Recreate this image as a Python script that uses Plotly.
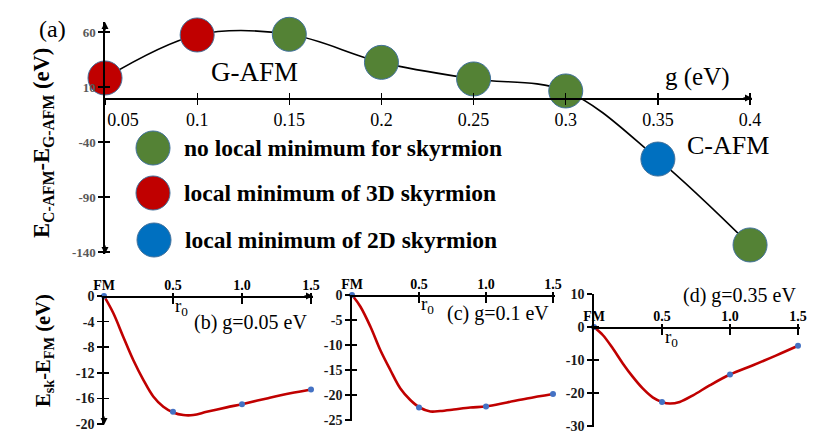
import plotly.graph_objects as go

W, H = 830, 445
def PX(x): return x / W
def PY(y): return 1 - y / H

SERIF = "Liberation Serif, Times New Roman, serif"

# ---------------- panel (a) data ----------------
g_vals = [0.05, 0.10, 0.15, 0.20, 0.25, 0.30, 0.35, 0.40]
dE_vals = [18.2, 57.3, 57.9, 32.4, 17.3, 6.4, -55.5, -133.6]
state = ["3D", "3D", "none", "none", "none", "none", "2D", "none"]
a_xticks = [0.05, 0.10, 0.15, 0.20, 0.25, 0.30, 0.35, 0.40]
a_xticklabels = ["\u00a0\u00a0\u00a0\u00a0\u00a0\u00a0\u00a0\u00a00.05", "0.1", "0.15", "0.2", "0.25", "0.3", "0.35", "0.4"]
a_yticks = [60, 10, -40, -90, -140]
state_names = ["none", "3D", "2D"]
state_colors = {"none": "#548235", "3D": "#C00000", "2D": "#0070C0"}
state_labels = {"none": "no local minimum for skyrmion",
                "3D": "local minimum of 3D skyrmion",
                "2D": "local minimum of 2D skyrmion"}

# ---------------- panels (b)(c)(d) data ----------------
r_pts = [0.0, 0.5, 1.0, 1.5]
b_pts = [0.0, -18.1, -16.9, -14.6]
c_pts = [0.0, -22.5, -22.3, -19.8]
d_pts = [0.0, -22.7, -14.4, -5.7]

b_curve_r = [0, 0.068, 0.14, 0.212, 0.285, 0.357, 0.43, 0.502, 0.575, 0.647, 0.744, 0.889, 1.0, 1.18, 1.35, 1.5]
b_curve_E = [0, -2.7, -6.4, -10.0, -13.1, -15.7, -17.3, -18.2, -18.6, -18.6, -18.1, -17.4, -16.9, -16.0, -15.2, -14.6]
c_curve_r = [0, 0.062, 0.137, 0.211, 0.286, 0.361, 0.435, 0.505, 0.585, 0.659, 0.759, 0.883, 1.0, 1.157, 1.306, 1.5]
c_curve_E = [0, -2.3, -6.3, -11.0, -15.0, -18.7, -21.0, -22.5, -23.3, -23.2, -22.9, -22.5, -22.3, -21.5, -20.7, -19.8]
d_curve_r = [0, 0.066, 0.14, 0.213, 0.287, 0.36, 0.434, 0.5, 0.556, 0.63, 0.728, 0.85, 1.0, 1.169, 1.341, 1.5]
d_curve_E = [0, -2.5, -6.6, -11.1, -15.2, -18.7, -21.4, -22.7, -23.2, -22.7, -20.7, -17.7, -14.4, -11.6, -8.6, -5.7]

b_yticks = [0, -4, -8, -12, -16, -20]
c_yticks = [0, -5, -10, -15, -20, -25]
d_yticks = [10, 0, -10, -20, -30]
r_ticks = [0, 0.5, 1.0, 1.5]
r_ticklabels = ["FM", "0.5", "1.0", "1.5"]

fig = go.Figure()

# ---- panel (a) traces ----
fig.add_trace(go.Scatter(x=g_vals, y=dE_vals, mode="lines",
                         line=dict(color="black", width=1.6, shape="spline"),
                         xaxis="x", yaxis="y", showlegend=False, hoverinfo="skip",
                         cliponaxis=False))
for s in state_names:
    xs = [gv for gv, st in zip(g_vals, state) if st == s]
    ys = [ev for ev, st in zip(dE_vals, state) if st == s]
    fig.add_trace(go.Scatter(x=xs, y=ys, mode="markers", name=state_labels[s],
                             marker=dict(size=34, color=state_colors[s],
                                         line=dict(color="#41719C", width=1)),
                             xaxis="x", yaxis="y", showlegend=False, cliponaxis=False))
fig.add_trace(go.Scatter(x=[], y=[], xaxis="x2", yaxis="y2", showlegend=False))

# ---- bottom panels ----
panels = [
    dict(cr=b_curve_r, cE=b_curve_E, pE=b_pts, yt=b_yticks,
         xdom=(104, 313), xscale=138, y0=296, ydom=(296, 425), yscale=6.4),
    dict(cr=c_curve_r, cE=c_curve_E, pE=c_pts, yt=c_yticks,
         xdom=(352, 555), xscale=134, y0=295, ydom=(295, 421), yscale=5.0),
    dict(cr=d_curve_r, cE=d_curve_E, pE=d_pts, yt=d_yticks,
         xdom=(594, 800), xscale=136, y0=327, ydom=(294, 427), yscale=3.3),
]

layout_axes = {}
tickfont_a_x = dict(family=SERIF, size=18, color="black")
tickfont_a_y = dict(family=SERIF, size=13, color="#595959")
common = dict(showgrid=False, zeroline=False, automargin=False)

layout_axes["xaxis"] = dict(domain=[PX(105), PX(752)], range=[0.05, 0.05 + 647 / 1843],
                            anchor="free", position=PY(98), side="bottom",
                            tickvals=a_xticks, ticktext=a_xticklabels, tickfont=tickfont_a_x,
                            ticks="outside", ticklen=5, tickwidth=1.3, tickcolor="black",
                            showline=True, linecolor="black", linewidth=1.6, **common)
layout_axes["yaxis"] = dict(domain=[PY(254), PY(22)], range=[-(254 - 98) / 1.1, (98 - 22) / 1.1],
                            anchor="x", tickvals=a_yticks, ticktext=[f"<b>{v}</b>" for v in a_yticks],
                            tickfont=tickfont_a_y, ticks="outside", ticklen=5, tickwidth=1.3,
                            tickcolor="black", showline=True, linecolor="black", linewidth=1.6,
                            **common)
layout_axes["xaxis2"] = dict(overlaying="x", range=layout_axes["xaxis"]["range"], anchor="free",
                             position=PY(98), side="bottom", tickvals=a_xticks,
                             showticklabels=False, ticks="inside", ticklen=5, tickwidth=1.3,
                             tickcolor="black", showline=False, **common)
layout_axes["yaxis2"] = dict(overlaying="y", range=layout_axes["yaxis"]["range"], anchor="x",
                             tickvals=a_yticks, showticklabels=False, ticks="inside", ticklen=5,
                             tickwidth=1.3, tickcolor="black", showline=False, **common)

for i, p in enumerate(panels):
    n_main = 3 + 2 * i
    n_ov = n_main + 1
    xm, ym = f"x{n_main}", f"y{n_main}"
    xo, yo = f"x{n_ov}", f"y{n_ov}"
    xr = [0, (p["xdom"][1] - p["xdom"][0]) / p["xscale"]]
    yr = [-(p["ydom"][1] - p["y0"]) / p["yscale"], (p["y0"] - p["ydom"][0]) / p["yscale"]]
    fig.add_trace(go.Scatter(x=p["cr"], y=p["cE"], mode="lines",
                             line=dict(color="#C00000", width=2.6, shape="spline"),
                             xaxis=xm, yaxis=ym, showlegend=False, cliponaxis=False))
    fig.add_trace(go.Scatter(x=r_pts, y=p["pE"], mode="markers",
                             marker=dict(size=6, color="#4472C4"),
                             xaxis=xm, yaxis=ym, showlegend=False, cliponaxis=False))
    fig.add_trace(go.Scatter(x=[], y=[], xaxis=xo, yaxis=yo, showlegend=False))
    layout_axes[f"xaxis{n_main}"] = dict(domain=[PX(p["xdom"][0]), PX(p["xdom"][1])], range=xr,
                                         anchor="free", position=PY(p["y0"]), side="top",
                                         tickvals=r_ticks,
                                         ticktext=[f"<b>{t}</b>" for t in r_ticklabels],
                                         tickfont=dict(family=SERIF, size=14, color="black"),
                                         ticks="inside", ticklen=6, tickwidth=1.5, tickcolor="black",
                                         showline=True, linecolor="black", linewidth=1.6, **common)
    layout_axes[f"yaxis{n_main}"] = dict(domain=[PY(p["ydom"][1]), PY(p["ydom"][0])], range=yr,
                                         anchor=xm, tickvals=p["yt"],
                                         ticktext=[f"<b>{v}</b>" for v in p["yt"]],
                                         tickfont=dict(family=SERIF, size=14, color="#1a1a1a"),
                                         ticks="outside", ticklen=5, tickwidth=1.5, tickcolor="black",
                                         showline=True, linecolor="black", linewidth=1.8, **common)
    layout_axes[f"xaxis{n_ov}"] = dict(overlaying=xm, range=xr, anchor="free",
                                       position=PY(p["y0"]), side="top", tickvals=r_ticks[1:],
                                       showticklabels=False, ticks="outside", ticklen=3,
                                       tickwidth=1.5, tickcolor="black", showline=False, **common)
    layout_axes[f"yaxis{n_ov}"] = dict(overlaying=ym, range=yr, anchor=xm, tickvals=p["yt"],
                                       showticklabels=False, ticks="inside", ticklen=5,
                                       tickwidth=1.5, tickcolor="black", showline=False, **common)

# ---- annotations ----
ann = []
def text(x, y, t, size, bold=False, xanchor="center", angle=0):
    ann.append(dict(x=PX(x), y=PY(y), xref="paper", yref="paper", text=(f"<b>{t}</b>" if bold else t),
                    showarrow=False, xanchor=xanchor, yanchor="middle", textangle=angle,
                    borderpad=0, font=dict(family=SERIF, size=size, color="black")))

def arrow(x, y, xref, yref, ax, ay):
    ann.append(dict(x=x, y=y, xref=xref, yref=yref, ax=ax, ay=ay, text="", showarrow=True,
                    arrowhead=2, arrowsize=1.0, arrowwidth=1.4, arrowcolor="black", standoff=0))

text(52, 29, "(a)", 24)
text(254, 72, "G-AFM", 27)
text(728, 145, "C-AFM", 26)
text(697, 77, "g (eV)", 25)
text(43, 143, "E<sub>C-AFM</sub>-E<sub>G-AFM</sub> (eV)", 22.5, bold=True, angle=-90)
text(44, 351, "E<sub>sk</sub>-E<sub>FM</sub> (eV)", 20.5, bold=True, angle=-90)
legend_pos = [(153, 148), (153, 193), (154, 240)]
for (lx, ly), s in zip(legend_pos, state_names):
    text(lx + 30, ly, state_labels[s], 23.5, bold=True, xanchor="left")

text(250, 322, "(b) g=0.05 eV", 20)
text(498, 313, "(c) g=0.1 eV", 20)
text(739, 295, "(d) g=0.35 eV", 20)
text(181, 307, "r<sub>0</sub>", 19)
text(427, 305, "r<sub>0</sub>", 19)
text(671, 338, "r<sub>0</sub>", 19)

# axis arrowheads
top_yr = layout_axes["yaxis"]["range"]
top_xr = layout_axes["xaxis"]["range"]
arrow(0.05, top_yr[1], "x", "y", 0, 10)
arrow(0.05, top_yr[0], "x", "y", 0, -10)
arrow(top_xr[1], 0, "x", "y", -10, 0)
b_yr = [-(425 - 296) / 6.4, 0]
arrow(0, b_yr[0], "x3", "y3", 0, -10)
arrow((313 - 104) / 138, 0, "x3", "y3", -10, 0)

# legend circles
shapes = []
for (lx, ly), s in zip(legend_pos, state_names):
    shapes.append(dict(type="circle", xref="paper", yref="paper", xsizemode="pixel",
                       ysizemode="pixel", xanchor=PX(lx), yanchor=PY(ly),
                       x0=-17, x1=17, y0=-17, y1=17, fillcolor=state_colors[s],
                       line=dict(color="#41719C", width=1)))

fig.update_layout(template="none", width=W, height=H, margin=dict(l=0, r=0, t=0, b=0, autoexpand=False),
                  paper_bgcolor="white", plot_bgcolor="rgba(0,0,0,0)",
                  showlegend=False, annotations=ann, shapes=shapes, **layout_axes)

fig.write_html("out.html", config={"displayModeBar": False, "staticPlot": True},
               post_script="document.body.style.margin='0px';")
